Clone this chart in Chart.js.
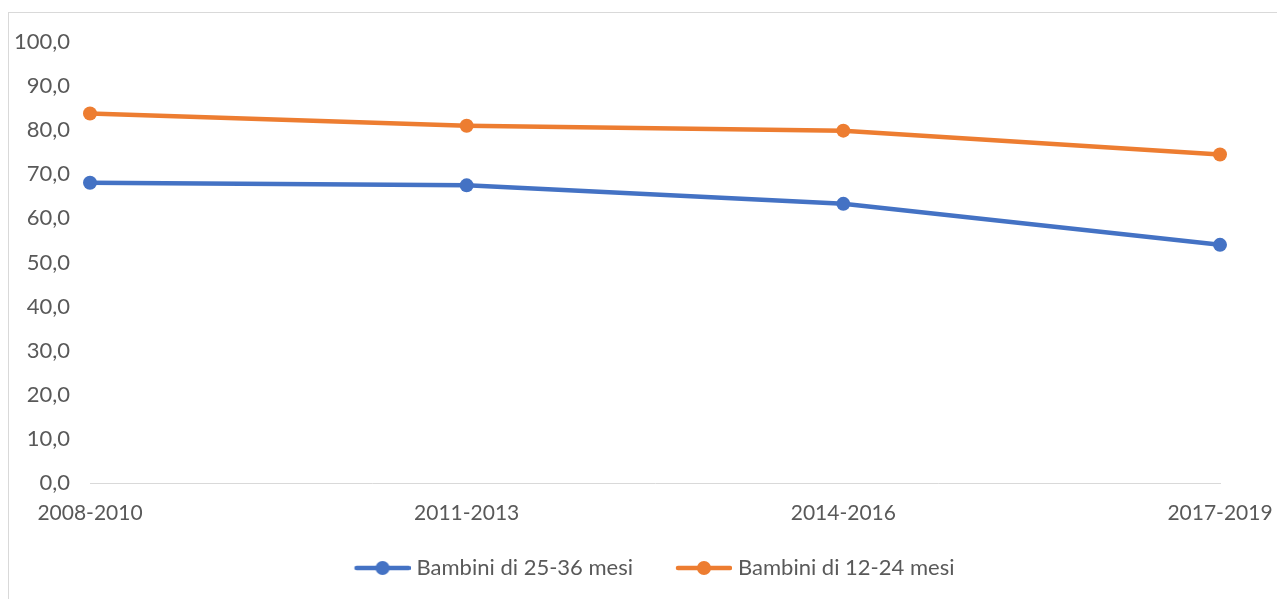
<!DOCTYPE html>
<html>
<head>
<meta charset="utf-8">
<script src="https://cdn.jsdelivr.net/npm/chart.js@4"></script>
<style>
  body { margin: 0; background: #fff; }
  #wrap { width: 1277px; height: 599px; position: relative; }
</style>
</head>
<body>
<div id="wrap"><canvas id="chart"></canvas></div>
<script>
// --- Data ---
const periods = ['2008-2010', '2011-2013', '2014-2016', '2017-2019'];
const bambini25_36 = [68.1, 67.5, 63.3, 54.0];
const bambini12_24 = [83.8, 81.0, 79.9, 74.5];
const seriesNames = ['Bambini di 25-36 mesi', 'Bambini di 12-24 mesi'];
const blue = '#4472C4', orange = '#ED7D31';
const textColor = '#595959';

// legend marker: line with a dot, drawn on a small canvas
function legendMarker(color) {
  const c = document.createElement('canvas');
  c.width = 94; c.height = 16;
  const g = c.getContext('2d');
  g.strokeStyle = color; g.lineWidth = 4.5; g.lineCap = 'round';
  g.beginPath(); g.moveTo(40, 8); g.lineTo(92, 8); g.stroke();
  g.fillStyle = color;
  g.beginPath(); g.arc(66, 8, 7, 0, Math.PI * 2); g.fill();
  return c;
}

// outer frame like the office chart border, legend nudged to the right
const framePlugin = {
  id: 'frame',
  afterLayout(chart) {
    chart.legend.left += 24;
    chart.legend.right += 24;
  },
  beforeDraw(chart) {
    const ctx = chart.ctx;
    ctx.save();
    ctx.strokeStyle = '#d9d9d9';
    ctx.lineWidth = 1;
    ctx.strokeRect(8.5, 12.5, 1400, 800);
    ctx.restore();
  }
};

Chart.defaults.font.family = 'Lato, "Open Sans", sans-serif';
Chart.defaults.font.size = 22;
Chart.defaults.color = textColor;

new Chart(document.getElementById('chart'), {
  type: 'line',
  data: {
    labels: periods,
    datasets: [
      { label: seriesNames[0], data: bambini25_36, borderColor: blue, backgroundColor: blue,
        borderWidth: 4.5, pointRadius: 7, pointBackgroundColor: blue, pointBorderWidth: 0,
        pointStyle: 'circle', tension: 0 },
      { label: seriesNames[1], data: bambini12_24, borderColor: orange, backgroundColor: orange,
        borderWidth: 4.5, pointRadius: 7, pointBackgroundColor: orange, pointBorderWidth: 0,
        pointStyle: 'circle', tension: 0 }
    ]
  },
  options: {
    responsive: true,
    maintainAspectRatio: false,
    animation: false,
    layout: { padding: { left: 8, right: 57, top: 42, bottom: 10 } },
    plugins: {
      tooltip: { enabled: false },
      legend: {
        position: 'bottom',
        labels: {
          usePointStyle: true,
          pointStyleWidth: 84,
          padding: 10,
          color: textColor,
          generateLabels(chart) {
            return chart.data.datasets.map((ds, i) => ({
              text: ds.label,
              pointStyle: legendMarker(ds.borderColor),
              fillStyle: ds.borderColor,
              strokeStyle: ds.borderColor,
              lineWidth: 0,
              hidden: false,
              datasetIndex: i,
              fontColor: textColor
            }));
          }
        }
      }
    },
    scales: {
      x: {
        offset: false,
        grid: { display: false, drawTicks: false },
        border: { display: true, color: '#d9d9d9', width: 1 },
        ticks: { padding: 18, maxRotation: 0, autoSkip: false, font: { size: 21 } },
        afterFit(scale) {
          scale.height = 64;
          scale.paddingLeft = 0;
          scale.paddingRight = 0;
        }
      },
      y: {
        min: 0, max: 100,
        grid: { display: false, drawTicks: false },
        border: { display: false },
        ticks: {
          stepSize: 10,
          padding: 20,
          callback: v => v.toFixed(1).replace('.', ',')
        },
        afterFit(scale) { scale.width = 82; }
      }
    }
  },
  plugins: [framePlugin]
});
</script>
</body>
</html>
